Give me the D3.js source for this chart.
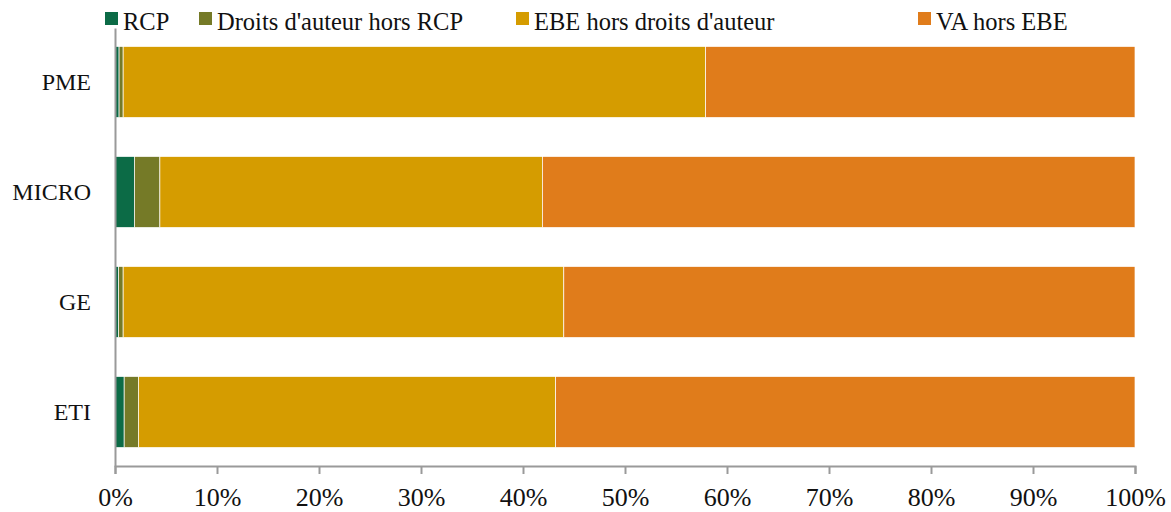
<!DOCTYPE html>
<html>
<head>
<meta charset="utf-8">
<script src="https://cdn.jsdelivr.net/npm/d3@7"></script>
<style>
  body { margin: 0; background: #fff; }
  text { font-family: "Liberation Serif", "DejaVu Serif", serif; fill: #111; }
</style>
</head>
<body>
<div id="chart"></div>
<script>
// categories, top to bottom
const categories = ["PME", "MICRO", "GE", "ETI"];
const seriesNames = ["RCP", "Droits d'auteur hors RCP", "EBE hors droits d'auteur", "VA hors EBE"];
const colors = ["#0c6b46", "#757a27", "#d59c00", "#e07c1b"];

// values in %
const rcp    = [0.4, 1.9, 0.35, 0.9];
const droits = [0.4, 2.5, 0.45, 1.4];
const ebe    = [57.1, 37.5, 43.2, 40.9];
const va     = [42.1, 58.1, 56.0, 56.8];

const ticks = [0, 10, 20, 30, 40, 50, 60, 70, 80, 90, 100];

const W = 1171, H = 512;
const margin = {top: 28, right: 36, bottom: 46, left: 115};

const rows = categories.map((c, i) => ({
  cat: c,
  "RCP": rcp[i],
  "Droits d'auteur hors RCP": droits[i],
  "EBE hors droits d'auteur": ebe[i],
  "VA hors EBE": va[i]
}));

const stack = d3.stack().keys(seriesNames).offset(d3.stackOffsetExpand);
const layers = stack(rows);

const svg = d3.select("#chart").append("svg")
  .attr("width", W).attr("height", H);

const x = d3.scaleLinear().domain([0, 1]).range([margin.left, W - margin.right]);
const y = d3.scaleBand().domain(categories)
  .range([margin.top, H - margin.bottom])
  .paddingInner(0.3545).paddingOuter(0.168);

// bars
svg.append("g").selectAll("g")
  .data(layers)
  .join("g")
    .attr("fill", (d, i) => colors[i])
  .selectAll("rect")
  .data(d => d)
  .join("rect")
    .attr("x", d => x(d[0]))
    .attr("y", d => y(d.data.cat))
    .attr("width", d => x(d[1]) - x(d[0]))
    .attr("height", y.bandwidth())
    .attr("stroke", "#fff")
    .attr("stroke-width", 0.7);

// x axis
const xAxis = svg.append("g")
  .attr("transform", "translate(0," + (H - margin.bottom) + ")")
  .call(d3.axisBottom(x).tickValues(ticks.map(t => t / 100))
    .tickFormat(d => Math.round(d * 100) + "%").tickSize(8).tickPadding(14));
xAxis.select(".domain").attr("stroke", "#9a9a9a").attr("stroke-width", 2);
xAxis.selectAll(".tick line").attr("stroke", "#9a9a9a").attr("stroke-width", 2);
xAxis.selectAll("text").style("font-size", "26px").attr("fill", "#111")
  .style("font-family", "'Liberation Serif', serif");

// y axis
const yAxis = svg.append("g")
  .attr("transform", "translate(" + margin.left + ",0)")
  .call(d3.axisLeft(y).tickSize(0).tickPadding(24));
yAxis.select(".domain").attr("stroke", "#9a9a9a").attr("stroke-width", 2);
yAxis.selectAll("text").style("font-size", "24px").attr("fill", "#111")
  .style("font-family", "'Liberation Serif', serif");

// legend
const legendX = [105, 199, 516, 918];
const legend = svg.append("g").selectAll("g")
  .data(seriesNames)
  .join("g")
    .attr("transform", (d, i) => "translate(" + legendX[i] + ",0)");
legend.append("rect")
  .attr("x", 0).attr("y", 12).attr("width", 13).attr("height", 13)
  .attr("fill", (d, i) => colors[i]);
legend.append("text")
  .attr("x", 18).attr("y", 30)
  .style("font-size", "24.5px")
  .text(d => d);
</script>
</body>
</html>
